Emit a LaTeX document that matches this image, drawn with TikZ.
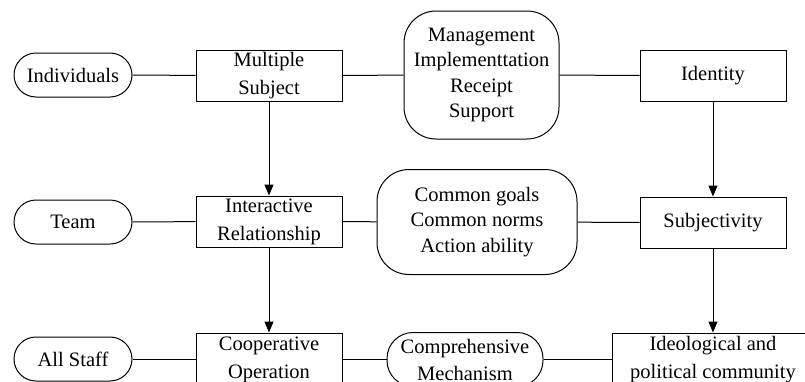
\documentclass[tikz,border=0pt]{standalone}
\usepackage{fontspec}
\setmainfont{Liberation Serif}
\usetikzlibrary{arrows.meta}
\begin{document}
\begin{tikzpicture}[x=1pt,y=-1pt,
  every node/.style={font=\fontsize{20.5}{25.5}\selectfont, align=center, inner sep=0pt, line width=1pt},
  box/.style={draw, rectangle, minimum width=146pt, minimum height=51pt, font=\fontsize{20.5}{28}\selectfont},
  pill/.style={draw, rounded corners=22pt, minimum width=118pt, minimum height=44pt},
  soft/.style={draw, rounded corners=32pt},
  link/.style={line width=1pt},
  arr/.style={line width=1pt, -{Triangle[length=11pt,width=9pt]}}]
\useasboundingbox (0,0) rectangle (805,381);
\clip (0,0) rectangle (805,381);
% row 1
\node[pill] (ind) at (73,75) {Individuals};
\node[box] (ms) at (269,75.5) {Multiple\\Subject};
\node[soft, minimum width=155pt, minimum height=128pt] (mg) at (481.5,75) {Management\\Implementtation\\Receipt\\Support};
\node[box] (id) at (713,75.5) {Identity};
% row 2
\node[pill] (team) at (73,222) {Team};
\node[box] (ir) at (269,221.5) {Interactive\\Relationship};
\node[soft, minimum width=200pt, minimum height=105pt] (cg) at (477,222) {Common goals\\Common norms\\Action ability};
\node[box] (sj) at (713,222.5) {Subjectivity};
% row 3
\node[pill, minimum height=44pt] (all) at (73,359) {All Staff};
\node[box, minimum height=54pt] (co) at (269,360) {Cooperative\\Operation};
\node[draw, rounded corners=26pt, minimum width=156pt, minimum height=54pt, font=\fontsize{20.5}{27}\selectfont] (cm) at (465,359.5) {Comprehensive\\Mechanism};
\node[box, minimum width=202pt, minimum height=54pt] (ip) at (713,360) {Ideological and\\political community};
% links
\draw[link] (ind) -- (ms);
\draw[link] (ms) -- (mg);
\draw[link] (mg) -- (id);
\draw[link] (team) -- (ir);
\draw[link] (ir) -- (cg);
\draw[link] (cg) -- (sj);
\draw[link] (all) -- (all -| co.west);
\draw[link] (co.east |- cm) -- (cm);
\draw[link] (cm) -- (cm -| ip.west);
% arrows
\draw[arr] (ms) -- (ir);
\draw[arr] (ir) -- (co);
\draw[arr] (id) -- (sj);
\draw[arr] (sj) -- (ip);
\end{tikzpicture}
\end{document}
